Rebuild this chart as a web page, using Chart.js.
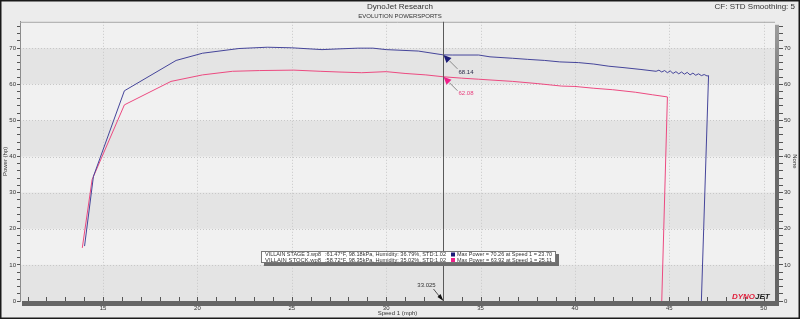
<!DOCTYPE html>
<html>
<head>
<meta charset="utf-8">
<script src="https://cdn.jsdelivr.net/npm/chart.js@4.4.1/dist/chart.umd.min.js"></script>
<style>
    html, body { margin: 0; padding: 0; background: #ececec; }
    #wrap { width: 800px; height: 319px; position: relative; }
</style>
</head>
<body>
<div id="wrap"><canvas id="dynoChart"></canvas></div>
<script>
const stage3Speed = [14.02, 14.49, 16.13, 18.87, 20.27, 22.2, 23.7, 25.0, 26.6, 27.5, 28.5, 29.3, 30.0, 31.7, 33.025, 33.5, 34.9, 35.5, 36.7, 37.5, 38.4, 39.2, 40.2, 41.0, 41.8, 42.6, 43.5, 44.3, 44.45, 44.6, 44.75, 44.9, 45.05, 45.2, 45.35, 45.5, 45.65, 45.8, 45.95, 46.1, 46.25, 46.4, 46.55, 46.7, 46.85, 47.0, 47.08, 46.7];
const stage3Power = [15.2, 34.5, 58.2, 66.6, 68.6, 69.9, 70.26, 70.1, 69.6, 69.8, 70.0, 70.0, 69.6, 69.2, 68.14, 68.1, 68.1, 67.6, 67.2, 66.9, 66.6, 66.2, 66.0, 65.6, 65.0, 64.6, 64.1, 63.6, 63.9, 63.4, 63.8, 63.2, 63.7, 63.0, 63.5, 62.9, 63.4, 62.8, 63.3, 62.6, 63.1, 62.5, 62.9, 62.4, 62.7, 62.3, 62.4, 0];
const stockSpeed = [13.9, 14.42, 16.13, 18.6, 20.27, 21.86, 23.3, 25.11, 26.5, 27.5, 28.7, 30.0, 31.0, 32.1, 33.025, 34.0, 34.9, 36.7, 38.0, 39.3, 40.0, 41.0, 42.0, 43.2, 44.1, 44.9, 44.6];
const stockPower = [14.7, 33.6, 54.3, 60.8, 62.6, 63.6, 63.8, 63.92, 63.6, 63.4, 63.2, 63.5, 63.0, 62.6, 62.08, 61.7, 61.4, 60.8, 60.2, 59.5, 59.4, 58.9, 58.5, 57.8, 57.1, 56.5, 0];

const runNames = ["VILLAIN STAGE 3.wp8", "VILLAIN STOCK.wp8"];
const runConditions = [":61.47°F, 98.18kPa, Humidity: 36.79%, STD:1.02", ":58.72°F, 98.35kPa, Humidity: 35.02%, STD:1.02"];
const runMaxPower = ["Max Power = 70.26 at Speed 1 = 23.70", "Max Power = 63.92 at Speed 1 = 25.11"];
const runColors = ["#45459a", "#ec4a80"];
const markerColors = ["#1c1c78", "#f0208a"];

const cursorSpeed = 33.025;
const cursorPower = [68.14, 62.08];

const speedTicks = [11, 12, 13, 14, 15, 16, 17, 18, 19, 20, 21, 22, 23, 24, 25, 26, 27, 28, 29, 30, 31, 32, 33, 34, 35, 36, 37, 38, 39, 40, 41, 42, 43, 44, 45, 46, 47, 48, 49, 50];
const speedLabels = [15, 20, 25, 30, 35, 40, 45, 50];
const powerTicks = [0, 2, 4, 6, 8, 10, 12, 14, 16, 18, 20, 22, 24, 26, 28, 30, 32, 34, 36, 38, 40, 42, 44, 46, 48, 50, 52, 54, 56, 58, 60, 62, 64, 66, 68, 70, 72, 74, 76];
const powerLabels = [0, 10, 20, 30, 40, 50, 60, 70];

const FONT = "'Liberation Sans', Arial, sans-serif";

function toPoints(xs, ys) {
    return xs.map((x, i) => ({ x: x, y: ys[i] }));
}

const plotBackground = {
    id: "plotBackground",
    beforeDraw(chart) {
        const { ctx, chartArea: area, scales } = chart;
        const y = scales.y;
        const x = scales.x;
        ctx.save();
        ctx.fillStyle = "#ececec";
        ctx.fillRect(0, 0, chart.width, chart.height);
        ctx.fillStyle = "#f1f1f1";
        ctx.fillRect(area.left, area.top, area.width, area.height);
        ctx.fillStyle = "#e4e4e4";
        for (let i = 0; i < powerLabels.length - 1; i += 2) {
            const top = y.getPixelForValue(powerLabels[i + 1]);
            const bottom = y.getPixelForValue(powerLabels[i]);
            ctx.fillRect(area.left, top, area.width, bottom - top);
        }
        ctx.strokeStyle = "#c8c8c8";
        ctx.lineWidth = 1;
        ctx.setLineDash([1, 2]);
        powerLabels.forEach(v => {
            const py = Math.round(y.getPixelForValue(v)) + 0.5;
            ctx.beginPath();
            ctx.moveTo(area.left, py);
            ctx.lineTo(area.right, py);
            ctx.stroke();
        });
        speedLabels.forEach(v => {
            const px = Math.round(x.getPixelForValue(v)) + 0.5;
            ctx.beginPath();
            ctx.moveTo(px, area.top);
            ctx.lineTo(px, area.bottom);
            ctx.stroke();
        });
        ctx.restore();
    }
};

const dynoOverlay = {
    id: "dynoOverlay",
    afterDraw(chart) {
        const { ctx, chartArea: area, scales } = chart;
        const x = scales.x;
        const y = scales.y;
        ctx.save();

        ctx.strokeStyle = "#a8a8a8";
        ctx.lineWidth = 1;
        ctx.beginPath();
        ctx.moveTo(area.left, area.top + 0.5);
        ctx.lineTo(area.right, area.top + 0.5);
        ctx.stroke();

        let grad = ctx.createLinearGradient(0, area.top, 0, area.bottom);
        grad.addColorStop(0, "#a0a0a0");
        grad.addColorStop(0.3, "#6c6c6c");
        grad.addColorStop(1, "#646464");
        ctx.fillStyle = grad;
        ctx.fillRect(area.right, area.top + 3, 4, area.height + 2);
        ctx.fillStyle = "#666666";
        ctx.fillRect(area.left + 2, area.bottom, area.width + 2, 5);

        ctx.strokeStyle = "#555555";
        speedTicks.forEach(v => {
            const px = Math.round(x.getPixelForValue(v)) + 0.5;
            ctx.beginPath();
            ctx.moveTo(px, area.bottom);
            ctx.lineTo(px, area.bottom - 4);
            ctx.stroke();
        });

        const cx = Math.round(x.getPixelForValue(cursorSpeed)) + 0.5;
        ctx.strokeStyle = "#5a5a5a";
        ctx.beginPath();
        ctx.moveTo(cx, area.top);
        ctx.lineTo(cx, area.bottom);
        ctx.stroke();

        ctx.font = "6px " + FONT;
        ctx.textBaseline = "middle";
        cursorPower.forEach((v, i) => {
            const py = y.getPixelForValue(v);
            ctx.fillStyle = markerColors[i];
            ctx.beginPath();
            ctx.moveTo(cx, py);
            ctx.lineTo(cx + 8, py + 3);
            ctx.lineTo(cx + 3, py + 8);
            ctx.closePath();
            ctx.fill();
            ctx.strokeStyle = "#8a8a8a";
            ctx.beginPath();
            ctx.moveTo(cx + 6, py + 6);
            ctx.lineTo(cx + 14, py + 14);
            ctx.stroke();
            ctx.fillStyle = i === 0 ? "#2a2a4a" : "#e8407e";
            ctx.textAlign = "left";
            ctx.fillText(v.toFixed(2), cx + 15, py + 17);
        });

        ctx.strokeStyle = "#555555";
        ctx.beginPath();
        ctx.moveTo(cx - 10, area.bottom - 12);
        ctx.lineTo(cx - 2, area.bottom - 2);
        ctx.stroke();
        ctx.fillStyle = "#111111";
        ctx.beginPath();
        ctx.moveTo(cx, area.bottom);
        ctx.lineTo(cx - 6, area.bottom - 4);
        ctx.lineTo(cx - 3, area.bottom - 7);
        ctx.closePath();
        ctx.fill();
        ctx.fillStyle = "#333333";
        ctx.textAlign = "center";
        ctx.fillText(cursorSpeed.toFixed(3), cx - 17, area.bottom - 16);

        drawRunBox(ctx);
        drawLogo(ctx, area);

        ctx.font = "8px " + FONT;
        ctx.fillStyle = "#333333";
        ctx.textAlign = "right";
        ctx.textBaseline = "middle";
        ctx.fillText("CF: STD Smoothing: 5", 795, 7);

        ctx.strokeStyle = "#1a1a1a";
        ctx.lineWidth = 1.5;
        ctx.strokeRect(0.75, 0.75, chart.width - 1.5, chart.height - 1.5);
        ctx.restore();
    }
};

function drawRunBox(ctx) {
    const bx = 261, by = 251, bw = 295, bh = 12;
    ctx.fillStyle = "#6e6e6e";
    ctx.fillRect(bx + 3, by + 3, bw, bh);
    ctx.fillStyle = "#ffffff";
    ctx.fillRect(bx, by, bw, bh);
    ctx.strokeStyle = "#777777";
    ctx.lineWidth = 1;
    ctx.strokeRect(bx + 0.5, by + 0.5, bw - 1, bh - 1);

    ctx.font = "6px " + FONT;
    ctx.textAlign = "left";
    ctx.textBaseline = "middle";
    runNames.forEach((name, i) => {
        const ly = by + 3.5 + i * 5.5;
        ctx.fillStyle = "#333333";
        ctx.fillText(name, bx + 4, ly, 56);
        ctx.fillText(runConditions[i], bx + 64, ly, 121);
        ctx.fillStyle = markerColors[i];
        ctx.fillRect(bx + 190, ly - 2, 4, 4);
        ctx.fillStyle = "#333333";
        ctx.fillText(runMaxPower[i], bx + 196, ly, 95);
    });
}

function drawLogo(ctx, area) {
    ctx.font = "italic bold 8px " + FONT;
    ctx.textAlign = "left";
    ctx.textBaseline = "alphabetic";
    ctx.fillStyle = "#e0203c";
    ctx.fillText("DYNO", area.right - 43, area.bottom - 2, 23);
    ctx.fillStyle = "#222222";
    ctx.fillText("JET", area.right - 20, area.bottom - 2, 18);
}

function CreateDynoChart(chartID) {
    const canvas = document.getElementById(chartID);
    const axisFont = { family: FONT, size: 6 };

    return new Chart(canvas, {
        type: "scatter",
        data: {
            datasets: [
                {
                    label: runNames[0],
                    data: toPoints(stage3Speed, stage3Power),
                    borderColor: runColors[0],
                    backgroundColor: runColors[0]
                },
                {
                    label: runNames[1],
                    data: toPoints(stockSpeed, stockPower),
                    borderColor: runColors[1],
                    backgroundColor: runColors[1]
                }
            ]
        },
        options: {
            responsive: true,
            maintainAspectRatio: false,
            animation: false,
            showLine: true,
            elements: {
                point: { radius: 0, hoverRadius: 0 },
                line: { borderWidth: 1, tension: 0 }
            },
            layout: { padding: 0 },
            plugins: {
                legend: { display: false },
                tooltip: { enabled: false },
                title: {
                    display: true,
                    text: "DynoJet Research",
                    color: "#333333",
                    font: { family: FONT, size: 8, weight: "normal" },
                    padding: { top: 2, bottom: 0 }
                },
                subtitle: {
                    display: true,
                    text: "EVOLUTION POWERSPORTS",
                    color: "#333333",
                    font: { family: FONT, size: 6 },
                    padding: { top: 1, bottom: 2 }
                }
            },
            scales: {
                x: {
                    type: "linear",
                    position: "bottom",
                    min: 10.6,
                    max: 50.6,
                    afterBuildTicks: axis => { axis.ticks = speedTicks.map(v => ({ value: v })); },
                    afterFit: axis => { axis.height = 18; },
                    ticks: {
                        autoSkip: false,
                        maxRotation: 0,
                        padding: 4,
                        color: "#333333",
                        font: axisFont,
                        callback: v => speedLabels.includes(v) ? String(v) : ""
                    },
                    grid: { drawOnChartArea: false, drawTicks: false },
                    border: { display: false },
                    title: {
                        display: true,
                        text: "Speed 1 (mph)",
                        color: "#333333",
                        font: axisFont,
                        padding: { top: 0, bottom: 2.4 }
                    }
                },
                y: {
                    type: "linear",
                    position: "left",
                    min: 0,
                    max: 77.3,
                    afterBuildTicks: axis => { axis.ticks = powerTicks.map(v => ({ value: v })); },
                    afterFit: axis => { axis.width = 20; },
                    ticks: {
                        autoSkip: false,
                        padding: 1,
                        color: "#333333",
                        font: axisFont,
                        callback: v => powerLabels.includes(v) ? String(v) : ""
                    },
                    grid: { drawOnChartArea: false, tickLength: 3, tickColor: "#555555" },
                    border: { display: true, color: "#8c8c8c" },
                    title: {
                        display: true,
                        text: "Power (hp)",
                        color: "#333333",
                        font: axisFont,
                        padding: { top: 1.5, bottom: 0 }
                    }
                },
                y2: {
                    type: "linear",
                    position: "right",
                    min: 0,
                    max: 77.3,
                    afterBuildTicks: axis => { axis.ticks = powerTicks.map(v => ({ value: v })); },
                    afterFit: axis => { axis.width = 25; },
                    ticks: {
                        autoSkip: false,
                        padding: 1,
                        color: "#333333",
                        font: axisFont,
                        callback: v => powerLabels.includes(v) ? String(v) : ""
                    },
                    grid: { drawOnChartArea: false, tickLength: 8, tickColor: "#555555" },
                    border: { display: false },
                    title: {
                        display: true,
                        text: "None",
                        color: "#333333",
                        font: axisFont,
                        padding: { top: 1.5, bottom: 0 }
                    }
                }
            }
        },
        plugins: [plotBackground, dynoOverlay]
    });
}

CreateDynoChart("dynoChart");
</script>
</body>
</html>
